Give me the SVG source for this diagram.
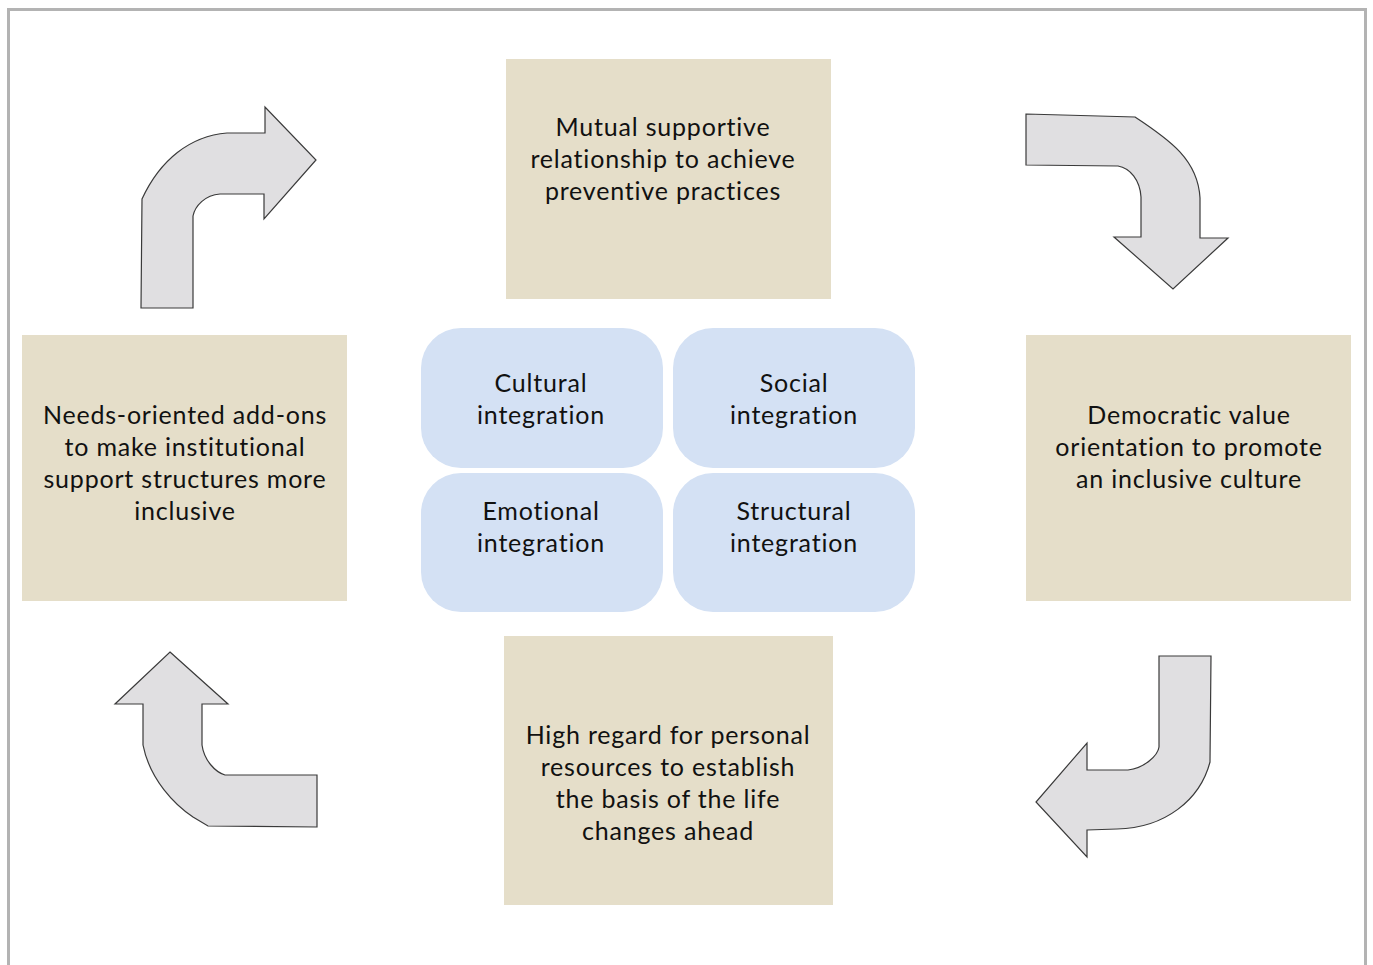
<svg xmlns="http://www.w3.org/2000/svg" width="1373" height="965" viewBox="0 0 1373 965">
<style>
.tan{fill:#e5dec9;}
.blue{fill:#d4e1f4;}
.arr{fill:#e0dfe1;stroke:#3a3a3a;stroke-width:1.2;stroke-linejoin:miter;}
text{font-family:Lato,"Open Sans","Liberation Sans",sans-serif;font-size:25px;fill:#111;text-anchor:middle;letter-spacing:0.8px;}
</style>
<rect x="0" y="0" width="1373" height="965" fill="#ffffff"/>
<rect x="8.5" y="9.5" width="1357" height="970" fill="#ffffff" stroke="#b3b3b3" stroke-width="3"/>
<g id="connectors">
<path class="arr" d="M141,308 L142,199 C160,160 190,136 227,133 L265,133 L265,107 L316,160 L264,219 L264,194 L220,194 C205,195 195,206 193,216 L193,308 Z"/>
<path class="arr" d="M1026,114 L1135,117 C1170,140 1198,160 1200,198 L1200,238 L1228,238 L1173,289 L1114,237 L1141,237 L1141,197 C1140,180 1130,168 1118,166 L1026,165 Z"/>
<path class="arr" d="M1159,656 L1211,656 L1210,762 C1200,800 1165,828 1117,829 L1087,830 L1087,857 L1036,802 L1087,743 L1087,770 L1128,770 C1145,768 1158,755 1159,747 Z"/>
<path class="arr" d="M170,652 L228,704 L202,704 L202,745 C204,760 215,772 225,775 L317,775 L317,827 L208,826 L193,817 C175,805 150,780 143,745 L143,704 L115,704 Z"/>
</g>
<g id="n-top"><rect class="tan" x="506" y="59" width="325" height="240"/>
<text x="663" y="136">Mutual supportive</text><text x="663" y="168">relationship to achieve</text><text x="663" y="200">preventive practices</text></g>
<g id="n-left"><rect class="tan" x="22" y="335" width="325" height="266"/>
<text x="185" y="424">Needs-oriented add-ons</text><text x="185" y="456">to make institutional</text><text x="185" y="488">support structures more</text><text x="185" y="520">inclusive</text></g>
<g id="n-right"><rect class="tan" x="1026" y="335" width="325" height="266"/>
<text x="1189" y="424">Democratic value</text><text x="1189" y="456">orientation to promote</text><text x="1189" y="488">an inclusive culture</text></g>
<g id="n-bottom"><rect class="tan" x="504" y="636" width="329" height="269"/>
<text x="668" y="744">High regard for personal</text><text x="668" y="776">resources to establish</text><text x="668" y="808">the basis of the life</text><text x="668" y="840">changes ahead</text></g>
<g id="n-cultural"><rect class="blue" x="421" y="328" width="242" height="140" rx="40"/>
<text x="541" y="392">Cultural</text><text x="541" y="424">integration</text></g>
<g id="n-social"><rect class="blue" x="673" y="328" width="242" height="140" rx="40"/>
<text x="794" y="392">Social</text><text x="794" y="424">integration</text></g>
<g id="n-emotional"><rect class="blue" x="421" y="473" width="242" height="139" rx="40"/>
<text x="541" y="520">Emotional</text><text x="541" y="552">integration</text></g>
<g id="n-structural"><rect class="blue" x="673" y="473" width="242" height="139" rx="40"/>
<text x="794" y="520">Structural</text><text x="794" y="552">integration</text></g>
</svg>
